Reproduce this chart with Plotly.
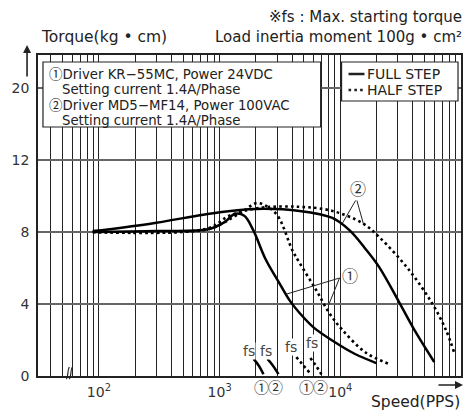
import plotly.graph_objects as go

# ---------------- data ----------------
full1_x = [89, 300, 800, 1100, 1330, 1600, 1900, 2400, 3100, 3800, 4600, 6000, 8900, 13000, 19900]
full1_y = [8.0, 8.05, 8.15, 8.55, 9.0, 8.9, 8.1, 6.5, 5.2, 4.2, 3.5, 2.7, 1.9, 1.25, 0.72]

full2_x = [89, 260, 1000, 2000, 4600, 8600, 11900, 16000, 21000, 31000, 42500, 60000]
full2_y = [8.05, 8.45, 9.1, 9.28, 9.17, 8.78, 8.1, 7.1, 6.05, 4.05, 2.39, 0.78]

half1_x = [89, 800, 1100, 1600, 2000, 2350, 3000, 4000, 4600, 6300, 8100, 10400, 16400, 25400]
half1_y = [8.0, 8.15, 8.55, 9.2, 9.6, 9.5, 8.94, 7.0, 6.28, 4.78, 3.5, 2.56, 1.28, 0.67]

half2_x = [89, 800, 1200, 2100, 4600, 8600, 15200, 21000, 37000, 57500, 75000, 87500]
half2_y = [8.0, 8.2, 8.9, 9.33, 9.4, 9.17, 8.5, 7.72, 5.9, 4.05, 2.56, 1.33]

# max starting torque (fs) marks
fs1_full_x = [1910, 2100, 2310]
fs1_full_y = [0.95, 0.6, 0.1]
fs2_full_x = [2490, 2750, 3075]
fs2_full_y = [0.95, 0.6, 0.1]
fs1_half_x = [4325, 4850, 5545]
fs1_half_y = [1.05, 0.65, 0.2]
fs2_half_x = [5650, 6250, 6970]
fs2_half_y = [1.0, 0.6, 0.1]

y_tickvals = [0, 4, 8, 12, 16]
y_ticktext = ["0", "4", "8", "12", "20"]

x_grid = [40, 50, 60, 70, 80, 90]
for dec in [100, 1000, 10000]:
    x_grid += [dec * k for k in range(1, 10)]
x_grid += [100000]
x_labels = {100: "10<sup>2</sup>", 1000: "10<sup>3</sup>", 10000: "10<sup>4</sup>"}
x_ticktext = [x_labels.get(v, "") for v in x_grid]

FONT = "DejaVu Sans, Noto Sans CJK KR, sans-serif"
CJK = "Noto Sans CJK KR"

def circ(ch, size):
    return f"<span style='font-family:{CJK};font-size:{size}px'>{ch}</span>"

# ---------------- layout helpers (pixel -> paper) ----------------
L, R, T, B = 38, 463, 55, 376
W, H = 471, 411
def px(x):
    return (x - L) / (R - L)
def py(y):
    return (B - y) / (B - T)

fig = go.Figure()
solid = dict(color="black", width=2.5)
dotted = dict(color="black", width=2.6, dash="2.6px,3.2px")

fig.add_trace(go.Scatter(x=full1_x, y=full1_y, mode="lines", line=solid, line_shape="spline", name="① FULL STEP"))
fig.add_trace(go.Scatter(x=full2_x, y=full2_y, mode="lines", line=solid, line_shape="spline", name="② FULL STEP"))
fig.add_trace(go.Scatter(x=half1_x, y=half1_y, mode="lines", line=dotted, line_shape="spline", name="① HALF STEP"))
fig.add_trace(go.Scatter(x=half2_x, y=half2_y, mode="lines", line=dotted, line_shape="spline", name="② HALF STEP"))
for xs, ys, ln in [(fs1_full_x, fs1_full_y, solid), (fs2_full_x, fs2_full_y, solid),
                   (fs1_half_x, fs1_half_y, dotted), (fs2_half_x, fs2_half_y, dotted)]:
    fig.add_trace(go.Scatter(x=xs, y=ys, mode="lines", line=ln, line_shape="spline", showlegend=False))

shapes = []
annotations = []

def text(x, y, s, size=14, xanchor="left", color="#222", bg=None):
    d = dict(xref="paper", yref="paper", x=px(x), y=py(y), text=s, showarrow=False,
             xanchor=xanchor, yanchor="middle", borderpad=0,
             font=dict(family=FONT, size=size, color=color))
    if bg:
        d["bgcolor"] = bg
    annotations.append(d)

def line(x0, y0, x1, y1, width=1, dash=None, layer="above"):
    d = dict(type="line", xref="paper", yref="paper", x0=px(x0), y0=py(y0), x1=px(x1), y1=py(y1),
             line=dict(color="#222", width=width), layer=layer)
    if dash:
        d["line"]["dash"] = dash
    shapes.append(d)

def rect(x0, y0, x1, y1):
    shapes.append(dict(type="rect", xref="paper", yref="paper", x0=px(x0), y0=py(y0), x1=px(x1), y1=py(y1),
                       line=dict(color="#222", width=1.2), fillcolor="white", layer="above"))

# info box
rect(43, 62, 322, 127)
text(48, 73.5, circ("①", 13.5) + "Driver KR−55MC, Power 24VDC", size=13.3)
text(61, 89, "Setting current 1.4A/Phase", size=13.3)
text(48, 104.5, circ("②", 13.5) + "Driver MD5−MF14, Power 100VAC", size=13.3)
text(61, 120, "Setting current 1.4A/Phase", size=13.3)

# legend box
rect(343, 62, 460, 101)
line(350, 74, 366, 74, width=2.5)
line(350, 90, 366, 90, width=2.6, dash="2.6px,3.2px")
text(368, 74, "FULL STEP", size=14)
text(368, 90, "HALF STEP", size=14)

# header texts
text(465, 17, "※fs : Max. starting torque", size=15, xanchor="right")
text(465, 37, "Load inertia moment 100g • cm²", size=15, xanchor="right")
text(40, 37, "Torque(kg • cm)", size=15.5)
text(463, 402, "Speed(PPS)", size=15.5, xanchor="right")

# arrows
annotations.append(dict(xref="paper", yref="paper", x=px(27), y=py(45), ax=0, ay=33, text="", showarrow=True,
                        arrowhead=2, arrowsize=1, arrowwidth=1.6, arrowcolor="#222"))
annotations.append(dict(xref="paper", yref="paper", x=px(465), y=py(385), ax=-26, ay=0, text="", showarrow=True,
                        arrowhead=2, arrowsize=1, arrowwidth=1.6, arrowcolor="#222"))

# fs labels
text(250, 351, "fs", size=14, xanchor="center", color="#444", bg="white")
text(267, 351, "fs", size=14, xanchor="center", color="#444", bg="white")
text(292, 347, "fs", size=14, xanchor="center", color="#444", bg="white")
text(313, 343, "fs", size=14, xanchor="center", color="#444", bg="white")
text(263, 386, circ("①", 15), size=15, xanchor="center", color="#333")
text(277, 386, circ("②", 15), size=15, xanchor="center", color="#333")
text(308, 386, circ("①", 15), size=15, xanchor="center", color="#333")
text(322, 386, circ("②", 15), size=15, xanchor="center", color="#333")

# callouts
text(360, 188, circ("②", 16), size=16, xanchor="center", color="#333", bg="white")
line(358, 199, 344, 223)
line(358, 199, 365, 224)
text(351, 275, circ("①", 16), size=16, xanchor="center", color="#333", bg="white")
line(341, 278, 288, 294)
line(341, 278, 330, 305)

# axis break
shapes.append(dict(type="path", xref="paper", yref="paper",
                   path=f"M {px(66.5)},{py(379)} C {px(69)},{py(376)} {px(67)},{py(371)} {px(69.5)},{py(367)}",
                   line=dict(color="#222", width=1.2), layer="above"))
shapes.append(dict(type="path", xref="paper", yref="paper",
                   path=f"M {px(69.5)},{py(379)} C {px(72)},{py(376)} {px(70)},{py(371)} {px(72.5)},{py(367)}",
                   line=dict(color="#222", width=1.2), layer="above"))

fig.update_layout(
    width=W, height=H,
    margin=dict(l=L, r=W - R, t=T, b=H - B, pad=0),
    paper_bgcolor="white", plot_bgcolor="white",
    showlegend=False,
    shapes=shapes, annotations=annotations,
    font=dict(family=FONT, size=14, color="#222"),
)
fig.update_xaxes(type="log", range=[1.4955, 5.0], tickvals=x_grid, ticktext=x_ticktext,
                 showgrid=True, gridcolor="#222", gridwidth=1, ticks="", ticklabelstandoff=2,
                 showline=True, linecolor="#222", linewidth=2, mirror=True, zeroline=False,
                 tickfont=dict(family=FONT, size=14, color="#333"))
fig.update_yaxes(range=[0, (B - T) / 18.0], tickvals=y_tickvals, ticktext=y_ticktext,
                 showgrid=True, gridcolor="#666", gridwidth=1.5, ticks="", ticklabelstandoff=4,
                 showline=True, linecolor="#222", linewidth=1.5, mirror=True, zeroline=False,
                 tickfont=dict(family=FONT, size=14, color="#333"))

fig.write_html("out.html", config={"displayModeBar": False},
               post_script="document.body.style.margin='0px';document.body.style.padding='0px';")
